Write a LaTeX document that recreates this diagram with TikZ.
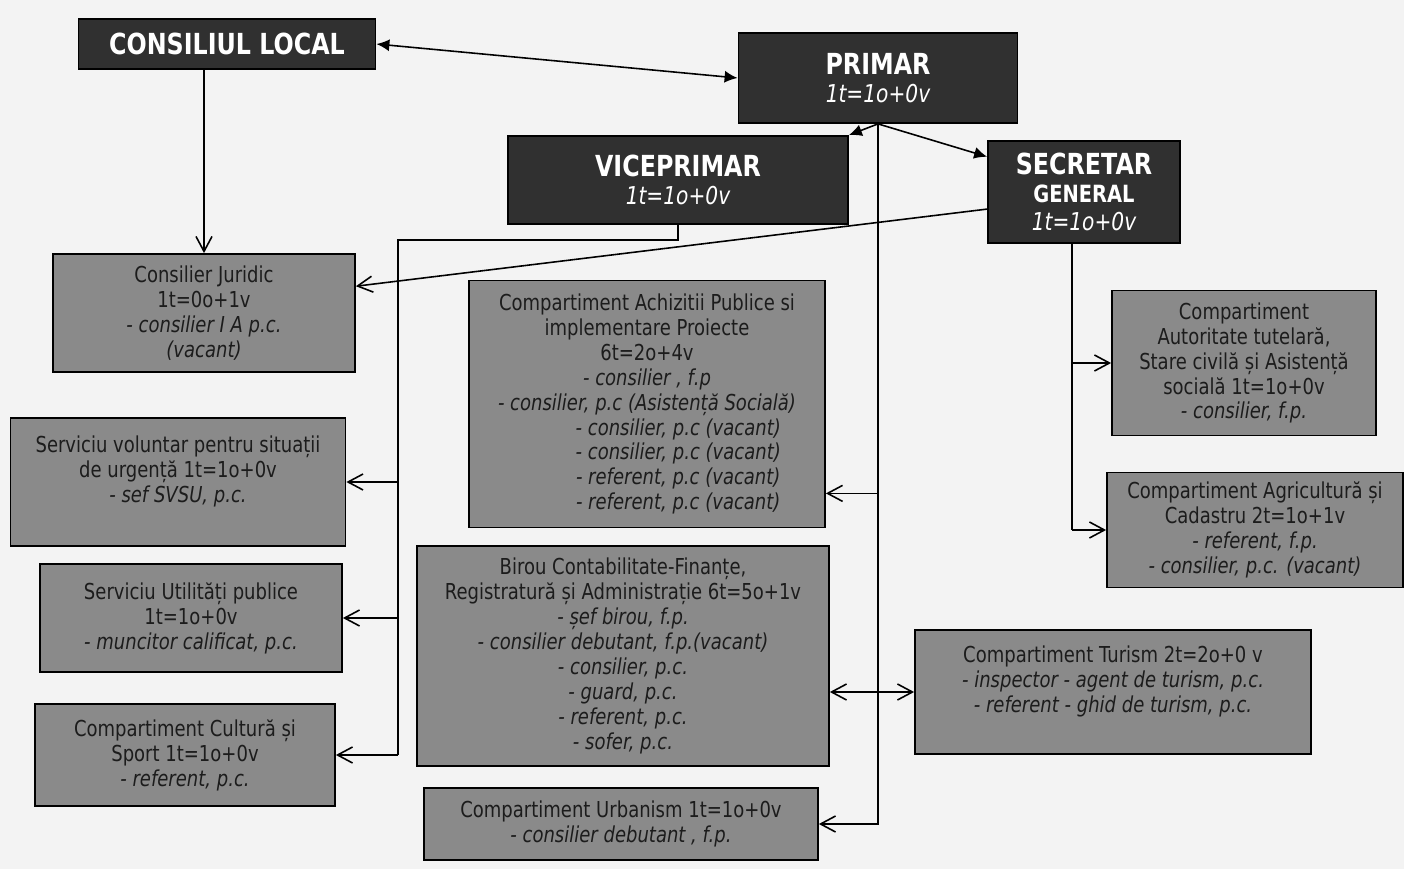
\documentclass[tikz,border=0pt]{standalone}
\usepackage{fontspec}
\setmainfont[FakeStretch=0.82]{DejaVu Sans}
\usetikzlibrary{arrows.meta}
\usetikzlibrary{calc}
\definecolor{darkbox}{RGB}{48,48,48}
\definecolor{greybox}{RGB}{138,138,138}
\definecolor{paper}{RGB}{243,243,243}
\definecolor{ink}{RGB}{28,28,28}

\begin{document}
\begin{tikzpicture}[x=0.02cm,y=-0.02cm,
  sz/.style 2 args={minimum width=#1*0.02cm,minimum height=#2*0.02cm},
  head/.style={draw=black,line width=1pt,fill=darkbox,text=white,align=center,inner sep=2pt,
    font=\fontsize{14}{16}\selectfont},
  unit/.style={draw=black,line width=1pt,fill=greybox,text=ink,align=center,inner sep=2pt,
    font=\fontsize{12.5}{14.2}\selectfont},
  wire/.style={line width=0.9pt},
  barb/.style={wire,-{Straight Barb[length=3mm,width=3.2mm]}},
  fat/.style={wire,-{Latex[length=2.6mm,width=2.4mm]}},
  fatboth/.style={wire,{Latex[length=2.6mm,width=2.4mm]}-{Latex[length=2.6mm,width=2.4mm]}}]
\path[use as bounding box,fill=paper] (0,0) rectangle (1404,869);

% conducere
\node[head,sz={297}{50}] (cl) at (227,44) {{\fontsize{16.5}{18}\selectfont\bfseries CONSILIUL LOCAL}};
\node[head,sz={279}{90}] (primar) at (878,78) {{\fontsize{16.5}{18}\selectfont\bfseries PRIMAR}\\\itshape 1t=1o+0v};
\node[head,sz={340}{88}] (vice) at (678,180) {{\fontsize{16.5}{18}\selectfont\bfseries VICEPRIMAR}\\\itshape 1t=1o+0v};
\node[head,sz={192}{102}] (secretar) at (1084,192) {{\fontsize{16.5}{18}\selectfont\bfseries SECRETAR}\\{\fontsize{13.5}{14}\selectfont\bfseries GENERAL}\\\itshape 1t=1o+0v};

% compartimente
\node[unit,sz={302}{118}] (juridic) at (204,313) {Consilier Juridic\\1t=0o+1v\\\textit{- consilier I A p.c.}\\\textit{(vacant)}};
\node[unit,sz={335}{128}] (svsu) at (178,482) {Serviciu voluntar pentru situații\\de urgență 1t=1o+0v\\\textit{- sef SVSU, p.c.}\\\mbox{}};
\node[unit,sz={302}{108}] (util) at (191,618) {Serviciu Utilități publice\\1t=1o+0v\\\textit{- muncitor calificat, p.c.}};
\node[unit,sz={300}{102}] (cultura) at (185,755) {Compartiment Cultură și\\Sport 1t=1o+0v\\\textit{- referent, p.c.}};
\node[unit,sz={356}{247}] (achiz) at (647,404) {Compartiment Achizitii Publice si\\implementare Proiecte\\6t=2o+4v\\\textit{- consilier , f.p}\\\textit{- consilier, p.c (Asistență Socială)}\\\hspace*{1.25cm}\textit{- consilier, p.c (vacant)}\\\hspace*{1.25cm}\textit{- consilier, p.c (vacant)}\\\hspace*{1.25cm}\textit{- referent, p.c (vacant)}\\\hspace*{1.25cm}\textit{- referent, p.c (vacant)}};
\node[unit,sz={412}{220}] (birou) at (623,656) {Birou Contabilitate-Finanțe,\\Registratură și Administrație 6t=5o+1v\\\textit{- șef birou, f.p.}\\\textit{- consilier debutant, f.p.(vacant)}\\\textit{- consilier, p.c.}\\\textit{- guard, p.c.}\\\textit{- referent, p.c.}\\\textit{- sofer, p.c.}};
\node[unit,sz={394}{72}] (urban) at (621,824) {Compartiment Urbanism 1t=1o+0v\\\textit{- consilier debutant , f.p.}};
\node[unit,sz={264}{145}] (autor) at (1244,363) {Compartiment\\Autoritate tutelară,\\Stare civilă și Asistență\\socială 1t=1o+0v\\\textit{- consilier, f.p.}};
\node[unit,sz={296}{115}] (agri) at (1255,530) {Compartiment Agricultură și\\Cadastru 2t=1o+1v\\\textit{- referent, f.p.}\\\textit{- consilier, p.c. (vacant)}};
\node[unit,sz={396}{124}] (turism) at (1113,692) {Compartiment Turism 2t=2o+0 v\\\textit{- inspector - agent de turism, p.c.}\\\textit{- referent - ghid de turism, p.c.}\\\mbox{}};

% legaturi
\draw[fatboth] (cl.east) -- (primar.west);
\draw[barb] (cl.south -| juridic.north) -- (juridic.north);
\draw[fat] (primar.south) -- (vice.north east);
\draw[fat] (primar.south) -- (secretar.160);
\draw[barb] (secretar.190) -- (juridic.10);

\draw[barb] (primar.south) |- (urban.east);
\coordinate (ae) at ($(achiz.south east)+(0,-35)$);
\draw[barb] (primar.south |- ae) -- (ae);
\draw[wire,{Straight Barb[length=3mm,width=3.2mm]}-{Straight Barb[length=3mm,width=3.2mm]}] (birou.east |- turism.west) -- (turism.west);

\coordinate (vl) at (398,240);
\draw[wire] (vice.south) |- (vl) -- (vl |- cultura.east);
\foreach \n in {svsu,util,cultura}
  \draw[barb] (vl |- \n.east) -- (\n.east);

\coordinate (sl) at ($(secretar.south)+(-12,0)$);
\draw[wire] (sl) -- (sl |- agri.west);
\foreach \n in {autor,agri}
  \draw[barb] (sl |- \n.west) -- (\n.west);
\end{tikzpicture}
\end{document}
